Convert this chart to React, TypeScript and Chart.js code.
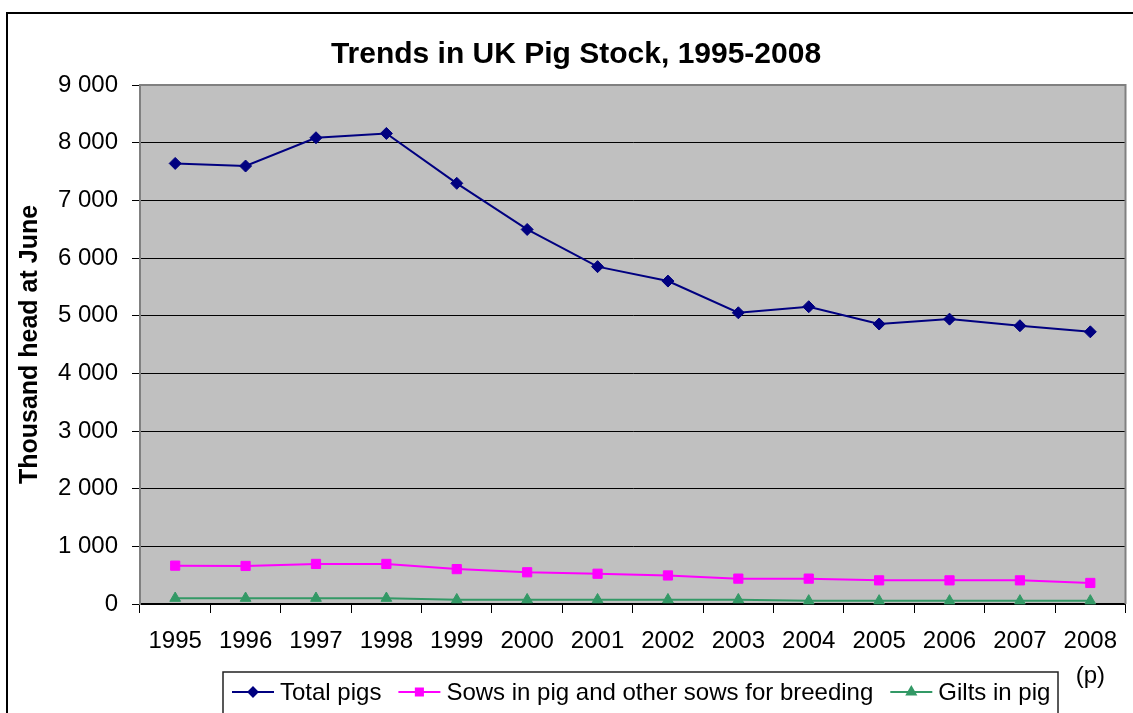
import React, { useEffect, useRef } from "react";
import { Chart, registerables } from "chart.js";
import { drawPoint } from "chart.js/helpers";

Chart.register(...registerables);

// Survey years; the last one is provisional
const years = ["1995", "1996", "1997", "1998", "1999", "2000", "2001", "2002", "2003", "2004", "2005", "2006", "2007", "2008"];
const provisionalYear = "2008";
const provisionalNote = "(p)";

// Thousand head at June
const totalPigs = [7640, 7595, 8085, 8160, 7295, 6495, 5850, 5600, 5050, 5155, 4855, 4940, 4825, 4720];
const sowsForBreeding = [665, 660, 695, 695, 605, 550, 525, 495, 440, 440, 410, 410, 410, 365];
const giltsInPig = [100, 100, 100, 100, 75, 75, 75, 75, 75, 55, 55, 55, 55, 55];

const seriesNames = ["Total pigs", "Sows in pig and other sows for breeding", "Gilts in pig"];
const seriesColors = ["#000080", "#FF00FF", "#339966"];
const seriesMarkers = ["rectRot", "rect", "triangle"];

const chartTitle = "Trends in UK Pig Stock, 1995-2008";
const yAxisTitle = "Thousand head at June";

const FONT = "'Liberation Sans', Arial, sans-serif";

const formatThousands = (v: number) => {
  if (v < 1000) return String(v);
  const hi = Math.floor(v / 1000);
  const lo = String(v % 1000).padStart(3, "0");
  return `${hi} ${lo}`;
};

const decorations = {
  id: "decorations",
  beforeDraw(chart: any) {
    const { ctx, chartArea, width, height } = chart;
    ctx.save();
    ctx.fillStyle = "#ffffff";
    ctx.fillRect(0, 0, width, height);
    // outer frame
    ctx.strokeStyle = "#000";
    ctx.lineWidth = 2;
    ctx.beginPath();
    ctx.moveTo(7, height + 5);
    ctx.lineTo(7, 13);
    ctx.lineTo(width + 5, 13);
    ctx.stroke();
    // plot background
    ctx.fillStyle = "#C0C0C0";
    ctx.fillRect(chartArea.left, chartArea.top, chartArea.right - chartArea.left, chartArea.bottom - chartArea.top);
    ctx.restore();
  },
  beforeDatasetsDraw(chart: any) {
    const { ctx, chartArea } = chart;
    ctx.save();
    ctx.strokeStyle = "#808080";
    ctx.lineWidth = 2;
    ctx.beginPath();
    ctx.moveTo(chartArea.left, chartArea.top);
    ctx.lineTo(chartArea.right, chartArea.top);
    ctx.lineTo(chartArea.right, chartArea.bottom);
    ctx.stroke();
    ctx.restore();
  },
  afterDraw(chart: any) {
    const { ctx, chartArea } = chart;
    ctx.save();
    ctx.fillStyle = "#000";
    // title
    ctx.font = `bold 30px ${FONT}`;
    ctx.textAlign = "center";
    ctx.textBaseline = "alphabetic";
    ctx.fillText(chartTitle, 576, 63);
    // y axis title
    ctx.save();
    ctx.translate(37, (chartArea.top + chartArea.bottom) / 2);
    ctx.rotate(-Math.PI / 2);
    ctx.font = `bold 25px ${FONT}`;
    ctx.fillText(yAxisTitle, 0, 0);
    ctx.restore();

    // legend
    const boxLeft = 223;
    const boxTop = 672;
    const boxRight = 1058;
    ctx.fillStyle = "#fff";
    ctx.fillRect(boxLeft, boxTop, boxRight - boxLeft, 60);
    ctx.strokeStyle = "#222";
    ctx.lineWidth = 1.5;
    ctx.strokeRect(boxLeft, boxTop, boxRight - boxLeft, 60);
    ctx.font = `24px ${FONT}`;
    ctx.textAlign = "left";
    const midY = 692;
    let x = 232;
    seriesNames.forEach((name, i) => {
      ctx.strokeStyle = seriesColors[i];
      ctx.lineWidth = 2;
      ctx.beginPath();
      ctx.moveTo(x, midY);
      ctx.lineTo(x + 42, midY);
      ctx.stroke();
      ctx.fillStyle = seriesColors[i];
      drawPoint(ctx, { pointStyle: seriesMarkers[i], radius: i === 0 ? 4.5 : 5, rotation: 0, borderWidth: 1 } as any, x + 21, midY);
      ctx.fillStyle = "#000";
      ctx.fillText(name, x + 48, 700);
      x += 48 + ctx.measureText(name).width + 17;
    });
    ctx.restore();
  },
};

export default function App() {
  const canvasRef = useRef<HTMLCanvasElement | null>(null);

  useEffect(() => {
    const canvas = canvasRef.current;
    if (!canvas) return;
    const datasets = [totalPigs, sowsForBreeding, giltsInPig].map((data, i) => ({
      label: seriesNames[i],
      data,
      borderColor: seriesColors[i],
      backgroundColor: seriesColors[i],
      pointBackgroundColor: seriesColors[i],
      pointBorderColor: seriesColors[i],
      pointStyle: seriesMarkers[i] as any,
      pointRadius: i === 0 ? 6 : i === 1 ? 6.5 : 6.2,
      pointBorderWidth: 1,
      borderWidth: 2,
      tension: 0,
      fill: false,
      clip: false as any,
    }));

    const chart = new Chart(canvas, {
      type: "line",
      data: { labels: years, datasets },
      plugins: [decorations],
      options: {
        animation: false,
        responsive: false,
        maintainAspectRatio: false,
        devicePixelRatio: 1,
        layout: { padding: { left: 0, top: 85, right: 5, bottom: 0 } },
        plugins: {
          legend: { display: false },
          title: { display: false },
          tooltip: { enabled: false },
        },
        scales: {
          x: {
            type: "category",
            offset: true,
            afterFit: (s: any) => {
              s.height = 109;
            },
            grid: {
              offset: true,
              drawOnChartArea: false,
              drawTicks: true,
              tickLength: 9,
              color: "#000",
              tickColor: "#000",
            },
            border: { display: true, color: "#000", width: 1.5 },
            ticks: {
              autoSkip: false,
              maxRotation: 0,
              minRotation: 0,
              padding: 11,
              color: "#000",
              font: { family: FONT, size: 24, lineHeight: 1.45 },
              callback: function (this: any, _v: any, idx: number) {
                const lab = years[idx];
                return lab === provisionalYear ? [lab, provisionalNote] : lab;
              },
            },
          },
          y: {
            type: "linear",
            min: 0,
            max: 9000,
            afterFit: (s: any) => {
              s.width = 140;
            },
            grid: {
              color: (c: any) => (c.tick && c.tick.value === 9000 ? "#808080" : "#000"),
              tickColor: "#000",
              drawTicks: true,
              tickLength: 8,
              lineWidth: 1,
            },
            border: { display: true, color: "#808080", width: 2 },
            ticks: {
              stepSize: 1000,
              padding: 14,
              color: "#000",
              font: { family: FONT, size: 24 },
              callback: (v: any) => formatThousands(Number(v)),
            },
          },
        },
      },
    });
    return () => chart.destroy();
  }, []);

  return (
    <div style={{ position: "fixed", left: 0, top: 0, width: 1133, height: 713 }}>
      <canvas ref={canvasRef} width={1133} height={713} style={{ width: 1133, height: 713, display: "block" }} />
    </div>
  );
}
